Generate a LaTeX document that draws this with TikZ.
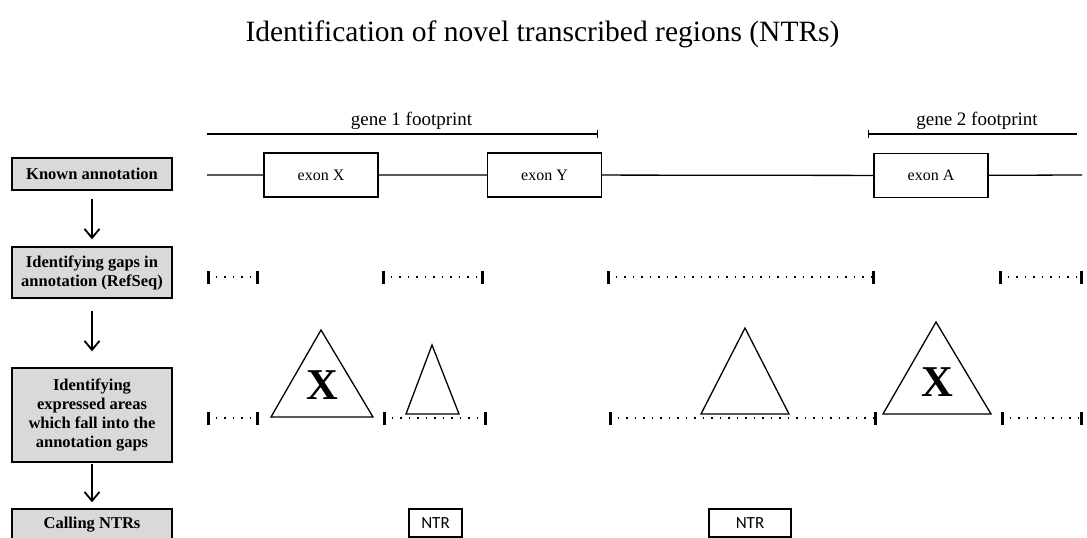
\documentclass[tikz,border=0pt]{standalone}
\usepackage{fontspec}
\setmainfont{Liberation Serif}
\newfontfamily\ntrfont{Carlito}
\usetikzlibrary{arrows.meta}
\tikzstyle{stage} = [rectangle, draw=black, line width=1.4pt, fill=gray!30, minimum width=160pt, inner sep=0pt, align=center, font=\bfseries\fontsize{16.5}{19}\selectfont]
\tikzstyle{exon} = [rectangle, draw=black, line width=1.3pt, fill=white, minimum width=114pt, minimum height=44pt, inner sep=0pt, font=\fontsize{16}{19}\selectfont]
\tikzstyle{ntr} = [rectangle, draw=black, line width=2pt, minimum height=28pt, inner sep=0pt, font=\ntrfont\fontsize{17}{20}\selectfont]
\tikzstyle{flow} = [line width=1.8pt, -{Straight Barb[length=9pt,width=15pt]}]
\tikzstyle{track} = [line width=1.3pt]
\tikzstyle{footprint} = [line width=1.2pt]
\tikzstyle{gap} = [line width=1.8pt, dash pattern=on 1.8pt off 6.7pt, dash phase=1.8pt, {Bar[width=13pt,line width=2.6pt]}-{Bar[width=13pt,line width=2.6pt]}]
\tikzstyle{peak} = [line width=1.3pt, fill=white, line join=miter]
\tikzstyle{hit} = [font=\bfseries\fontsize{44}{50}\selectfont]

\begin{document}
\begin{tikzpicture}[x=1pt, y=-1pt]
  \useasboundingbox (0,0) rectangle (1087,538);
  \clip (0,0) rectangle (1087,538);

  \node (title) [anchor=base, font=\fontsize{29.5}{34}\selectfont] at (542.5,41) {Identification of novel transcribed regions (NTRs)};

  % pipeline steps on the left
  \node (known)     [stage, minimum height=32pt] at (92,174) {Known annotation};
  \node (gaps)      [stage, minimum height=51pt] at (92,272.5) {Identifying gaps in\\annotation (RefSeq)};
  \node (expressed) [stage, minimum height=94pt] at (92,415) {Identifying\\expressed areas\\which fall into the\\annotation gaps};
  \node (calling)   [stage, minimum height=32pt] at (92,525) {Calling NTRs};

  \draw[flow, shorten <=8pt, shorten >=7pt] (known) -- (gaps);
  \draw[flow, shorten <=12pt, shorten >=16pt] (gaps) -- (expressed);
  \draw[flow, shorten <=1pt, shorten >=6pt] (expressed) -- (calling);

  % gene footprints
  \coordinate (g1a) at (207,134);
  \coordinate (g1b) at (598,134);
  \coordinate (g2a) at (868,134);
  \coordinate (g2b) at (1077,134);
  \draw[footprint, -{Bar[width=8pt]}] (g1a) -- (g1b);
  \draw[footprint, {Bar[width=8pt]}-] (g2a) -- (g2b);
  \node (gene1) [anchor=base, font=\fontsize{19}{22}\selectfont] at (411.5,125) {gene 1 footprint};
  \node (gene2) [anchor=base, font=\fontsize{19}{22}\selectfont] at (977,125) {gene 2 footprint};

  % annotated exons
  \coordinate (ta) at (207,175);
  \coordinate (tb) at (1082,175);
  \node (exonX) [exon] at (321,175) {exon X};
  \node (exonY) [exon] at (544.5,175) {exon Y};
  \node (exonA) [exon] at (931,175.5) {exon A};
  \draw[track] (ta) -- (exonX) -- (exonY) -- (exonA) -- (tb);

  % gaps in the annotation
  \foreach \a/\b in {207/259, 382/484, 607/875, 999/1083}
    \draw[gap] (\a,277) -- (\b,277);

  % expressed areas over the gaps
  \foreach \a/\b in {207/259, 383/487, 609/877, 1001/1083}
    \draw[gap] (\a,418) -- (\b,418);
  \draw[peak] (271,417) -- (321,330) -- (373,417) -- cycle;
  \draw[peak] (406,414) -- (432,345) -- (459,414) -- cycle;
  \draw[peak] (701,414) -- (745,328) -- (789,414) -- cycle;
  \draw[peak] (883,414) -- (936,322) -- (991,414) -- cycle;
  \node (x1) [hit] at (322,385) {X};
  \node (x2) [hit] at (937,382) {X};

  % called NTRs
  \node (ntr1) [ntr, minimum width=53pt] at (435.5,523) {NTR};
  \node (ntr2) [ntr, minimum width=82pt] at (750,523) {NTR};
\end{tikzpicture}
\end{document}
